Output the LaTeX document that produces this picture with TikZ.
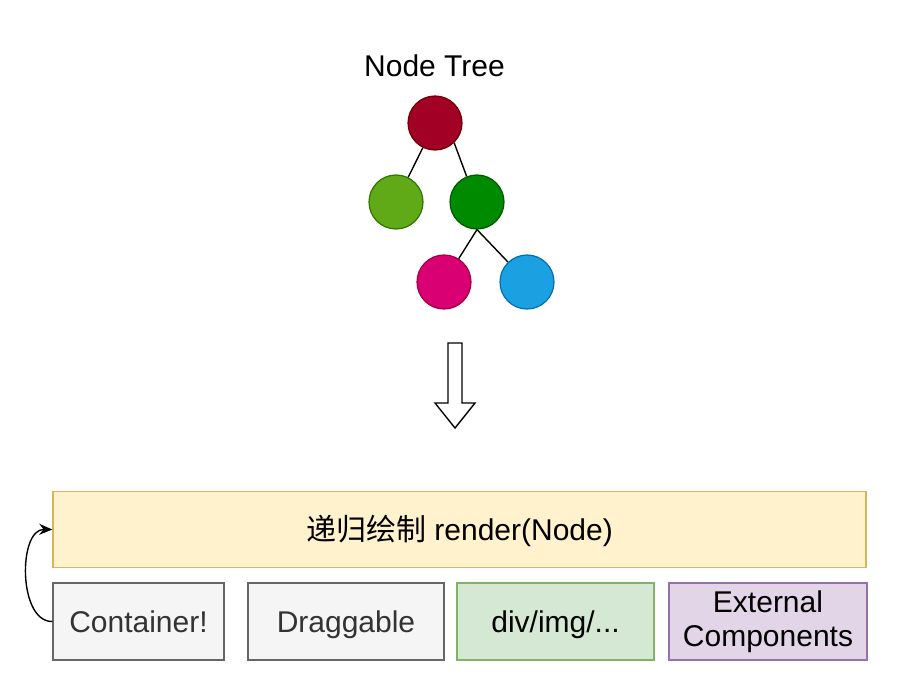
\documentclass[tikz,border=0pt]{standalone}
\usepackage{fontspec}
\setmainfont{Liberation Sans}
\newfontfamily\cjk{Noto Sans CJK SC}
\usetikzlibrary{arrows.meta}
\definecolor{rootF}{HTML}{A20025}\definecolor{rootD}{HTML}{6F0000}
\definecolor{lgF}{HTML}{60A917}\definecolor{lgD}{HTML}{2D7600}
\definecolor{dgF}{HTML}{008A00}\definecolor{dgD}{HTML}{005700}
\definecolor{pkF}{HTML}{D80073}\definecolor{pkD}{HTML}{A50040}
\definecolor{blF}{HTML}{1BA1E2}\definecolor{blD}{HTML}{006EAF}
\definecolor{yeF}{HTML}{FFF2CC}\definecolor{yeD}{HTML}{D6B656}
\definecolor{grF}{HTML}{F5F5F5}\definecolor{grD}{HTML}{666666}\definecolor{grT}{HTML}{333333}
\definecolor{gnF}{HTML}{D5E8D4}\definecolor{gnD}{HTML}{82B366}
\definecolor{puF}{HTML}{E1D5E7}\definecolor{puD}{HTML}{9673A6}
\tikzset{
  tnode/.style={circle, minimum size=54pt, inner sep=0pt, line width=1.2pt},
  tedge/.style={line width=1.4pt, black},
  box/.style={rectangle, inner sep=0pt, line width=1.5pt, align=center,
    font=\fontsize{30}{34}\selectfont, minimum height=77pt},
  oneline/.style={text height=27pt, text depth=6pt},
}
\begin{document}
\begin{tikzpicture}[x=1pt,y=-1pt]
\useasboundingbox (0,0) rectangle (911,690);
\node[font=\fontsize{30}{34}\selectfont] (title) at (434.5,66) {Node Tree};
\node[tnode, fill=rootF, draw=rootD] (root) at (435,123) {};
\node[tnode, fill=lgF, draw=lgD] (lg) at (396,202) {};
\node[tnode, fill=dgF, draw=dgD] (dg) at (477,202) {};
\node[tnode, fill=pkF, draw=pkD] (pk) at (444,282) {};
\node[tnode, fill=blF, draw=blD] (bl) at (527,282) {};
\draw[tedge] (root) -- (lg);
\draw[tedge] (root.-46) -- (dg.112);
\draw[tedge] (dg.south) -- (pk);
\draw[tedge] (dg.south) -- (bl);
% hollow arrow
\draw[line width=1.4pt, fill=white, line join=miter]
  (448,343) -- (462,343) -- (462,403) -- (475,403) -- (455,428) -- (435,403) -- (448,403) -- cycle;
\node[box, oneline, fill=yeF, draw=yeD, minimum width=813pt, minimum height=76pt] (render) at (459.5,529.5) {{\cjk 递归绘制} render(Node)};
\node[box, oneline, fill=grF, draw=grD, text=grT, minimum width=171pt] (cont) at (138.5,621.5) {Container!};
\node[box, oneline, fill=grF, draw=grD, text=grT, minimum width=196pt] (drag) at (346,621.5) {Draggable};
\node[box, oneline, fill=gnF, draw=gnD, minimum width=197pt] (div) at (555.5,621.5) {div/img/...};
\node[box, fill=puF, draw=puD, minimum width=198pt] (ext) at (768,621.5) {\raisebox{-2pt}{External}\\\raisebox{-2pt}{Components}};
\draw[line width=1.4pt, -{Stealth[length=13pt,width=11pt]}] (cont.west) .. controls (18,622) and (18,529) .. (render.west);
\end{tikzpicture}
\end{document}
